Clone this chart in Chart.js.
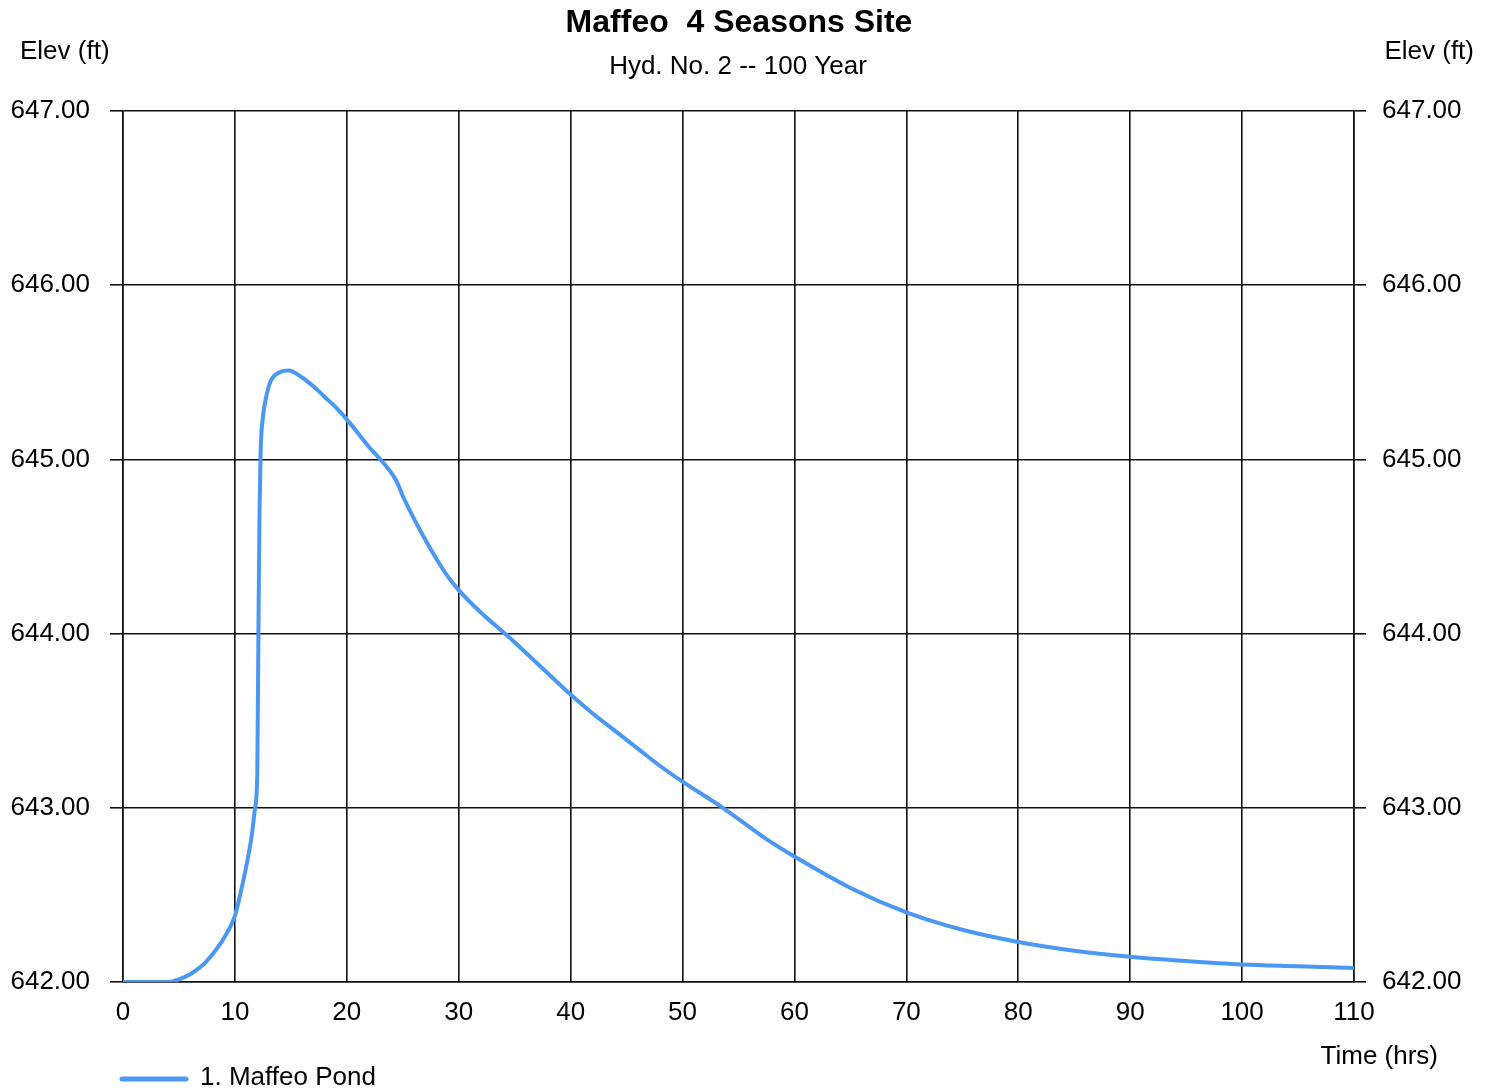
<!DOCTYPE html>
<html>
<head>
<meta charset="utf-8">
<title>Maffeo 4 Seasons Site</title>
<script src="https://cdn.jsdelivr.net/npm/chart.js@4/dist/chart.umd.min.js"></script>
<style>
  html, body { margin: 0; padding: 0; background: #ffffff; }
  #wrap { width: 1493px; height: 1091px; position: relative; }
</style>
</head>
<body>
<div id="wrap"><canvas id="chart" width="1493" height="1091"></canvas></div>
<script>
// Stage hydrograph, Hyd. No. 2 (100 year storm)
const timeHrs = [0, 2, 4, 5, 6, 7, 8, 9, 10, 10.5, 11, 11.5, 11.8, 12.0, 12.1, 12.2, 12.3, 12.5, 12.8, 13.2, 14, 14.8,
  16, 17, 18, 19, 20, 21, 22, 23, 24.4, 25, 26, 27, 28, 29, 30, 32, 34.3, 36, 38, 40, 42, 44, 46, 48, 50,
  53.6, 57.5, 60, 65, 70, 75, 80, 85, 90, 95, 100, 105, 110];
const pondElev = [642.00, 642.00, 642.00, 642.015, 642.045, 642.09, 642.16, 642.25, 642.38, 642.51, 642.66, 642.84, 643.00, 643.20, 644.00, 644.70, 645.05, 645.24, 645.36, 645.45, 645.50, 645.51,
  645.47, 645.42, 645.36, 645.30, 645.23, 645.15, 645.07, 645.00, 644.88, 644.79, 644.66, 644.54, 644.43, 644.33, 644.25, 644.12, 643.99, 643.89, 643.77, 643.65, 643.54, 643.44, 643.34, 643.24, 643.15,
  643.00, 642.82, 642.72, 642.54, 642.40, 642.30, 642.23, 642.18, 642.145, 642.12, 642.10, 642.09, 642.08];
const seriesName = '1. Maffeo Pond';
const chartTitle = 'Maffeo  4 Seasons Site';
const chartSubtitle = 'Hyd. No. 2 -- 100 Year';
const yAxisLabel = 'Elev (ft)';
const xAxisLabel = 'Time (hrs)';
const xTicks = { min: 0, max: 110, step: 10 };
const yTicks = { min: 642, max: 647, step: 1 };

const FONT = '"Liberation Sans", Arial, Helvetica, sans-serif';
const LINE_BLUE = '#4a98f3';
const GRID = '#111111';

const points = timeHrs.map((t, i) => ({ x: t, y: pondElev[i] }));

// Titles, axis captions and the legend key
const annotations = {
  id: 'annotations',
  afterDraw(chart) {
    const ctx = chart.ctx;
    ctx.save();
    ctx.fillStyle = '#000';
    ctx.textBaseline = 'middle';
    ctx.textAlign = 'center';
    ctx.font = 'bold 32px ' + FONT;
    ctx.fillText(chartTitle, 739, 23);
    ctx.font = '26px ' + FONT;
    ctx.fillText(chartSubtitle, 738, 67);

    ctx.font = '26px ' + FONT;
    ctx.textAlign = 'left';
    ctx.fillText(yAxisLabel, 20, 52);
    ctx.textAlign = 'right';
    ctx.fillText(yAxisLabel, 1474, 52);
    ctx.fillText(xAxisLabel, 1438, 1057);

    // legend key
    ctx.strokeStyle = LINE_BLUE;
    ctx.lineWidth = 5;
    ctx.lineCap = 'round';
    ctx.beginPath();
    ctx.moveTo(122, 1079);
    ctx.lineTo(186, 1079);
    ctx.stroke();
    ctx.textAlign = 'left';
    ctx.fillText(seriesName, 200, 1078);
    ctx.restore();
  }
};

new Chart(document.getElementById('chart'), {
  type: 'line',
  data: {
    datasets: [{
      label: seriesName,
      data: points,
      borderColor: LINE_BLUE,
      borderWidth: 4,
      pointRadius: 0,
      fill: false,
      cubicInterpolationMode: 'monotone'
    }]
  },
  options: {
    responsive: false,
    animation: false,
    layout: { padding: { top: 111, left: 0, right: 0, bottom: 0 } },
    plugins: {
      legend: { display: false },
      title: { display: false },
      tooltip: { enabled: false }
    },
    scales: {
      x: {
        type: 'linear',
        min: xTicks.min,
        max: xTicks.max,
        afterFit(scale) { scale.height = 1091 - 982; },
        ticks: {
          stepSize: xTicks.step,
          color: '#000',
          padding: 15,
          font: { family: FONT, size: 26 },
          maxRotation: 0
        },
        grid: { color: GRID, lineWidth: 1.6, drawTicks: false },
        border: { color: GRID, width: 1.6 }
      },
      y: {
        type: 'linear',
        position: 'left',
        min: yTicks.min,
        max: yTicks.max,
        afterFit(scale) { scale.width = 123; },
        ticks: {
          stepSize: yTicks.step,
          color: '#000',
          padding: 20,
          font: { family: FONT, size: 26 },
          callback: v => Number(v).toFixed(2)
        },
        grid: { color: GRID, lineWidth: 1.6, tickLength: 13 },
        border: { color: GRID, width: 1.6 }
      },
      y2: {
        type: 'linear',
        position: 'right',
        min: yTicks.min,
        max: yTicks.max,
        afterFit(scale) { scale.width = 1493 - 1354; },
        ticks: {
          stepSize: yTicks.step,
          color: '#000',
          padding: 16,
          font: { family: FONT, size: 26 },
          callback: v => Number(v).toFixed(2)
        },
        grid: { drawOnChartArea: false, color: GRID, lineWidth: 1.6, tickLength: 12 },
        border: { color: GRID, width: 1.6 }
      }
    }
  },
  plugins: [annotations]
});
</script>
</body>
</html>
